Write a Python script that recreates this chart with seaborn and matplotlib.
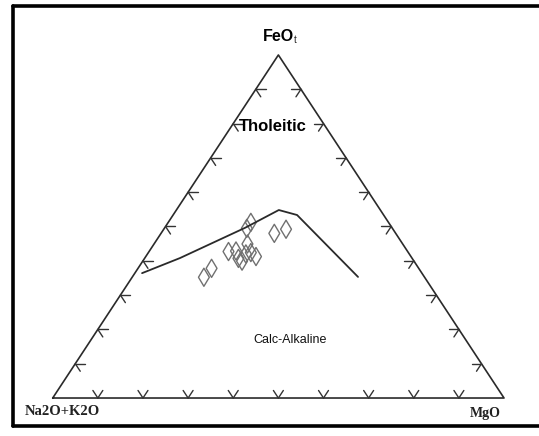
import numpy as np
import pandas as pd
import matplotlib
matplotlib.use("Agg")
import matplotlib.pyplot as plt
import seaborn as sns
from matplotlib.lines import Line2D

# ternary data (percent): A = Na2O+K2O, F = FeOt, M = MgO
sample_A = [32.3, 30.5, 26.9, 23.7, 39.7, 38.0, 38.5, 34.4, 36.2, 34.9, 34.3, 38.1, 45.9, 48.9]
sample_F = [49.5, 51.2, 48.0, 49.2, 42.7, 42.9, 40.7, 44.9, 42.0, 42.4, 41.2, 39.9, 37.8, 35.2]
sample_M = [18.3, 18.3, 25.1, 27.1, 17.6, 19.2, 20.8, 20.7, 21.8, 22.7, 24.4, 22.0, 16.3, 15.9]

# Tholeiitic / calc-alkaline boundary
line_A = [62.0, 51.4, 32.6, 22.5, 19.2, 14.7]
line_F = [36.4, 40.8, 49.6, 54.8, 53.4, 35.3]
line_M = [1.6, 7.8, 17.8, 22.7, 27.5, 50.0]

H = np.sqrt(3) / 2


def to_xy(A, F, M):
    A, F, M = np.asarray(A, float), np.asarray(F, float), np.asarray(M, float)
    s = A + F + M
    f, m = F / s, M / s
    return m + f / 2, f * H


sns.set_style("white")
fig = plt.figure(figsize=(5.39, 4.36), dpi=100)
ax = fig.add_axes([0, 0, 1, 1])
ax.set_xlim(-0.1168, 1.0775)
ax.set_ylim(-0.0959, 1.0048)

# triangle
ax.plot([0, 1, 0.5, 0], [0, 0, H, 0], color="#2a2a2a", lw=1.2)

# tick marks every 10 %
L = 0.022
for k in range(1, 10):
    t = k / 10
    # bottom
    px, py = t, 0
    for dx, dy in [(0.5, H), (-0.5, H)]:
        ax.plot([px, px + L * dx], [py, py + L * dy], color="#333333", lw=1.0)
    # left
    px, py = t / 2, t * H
    for dx, dy in [(1, 0), (0.5, -H)]:
        ax.plot([px, px + L * dx], [py, py + L * dy], color="#333333", lw=1.0)
    # right
    px, py = 1 - t / 2, t * H
    for dx, dy in [(-1, 0), (-0.5, -H)]:
        ax.plot([px, px + L * dx], [py, py + L * dy], color="#333333", lw=1.0)

lx, ly = to_xy(line_A, line_F, line_M)
df_line = pd.DataFrame({"x": lx, "y": ly})
sns.lineplot(data=df_line, x="x", y="y", sort=False, color="#2a2a2a", lw=1.3, ax=ax)

sx, sy = to_xy(sample_A, sample_F, sample_M)
df_pts = pd.DataFrame({"x": sx, "y": sy})
sns.scatterplot(data=df_pts, x="x", y="y", marker="d", s=85, facecolor="none",
                edgecolor="#707070", linewidth=1.0, ax=ax)
ax.axis("off")

ax.text(0.5000, 0.9114, "FeO", fontsize=11.5, fontweight="bold", ha="center", va="center",
        family="Liberation Sans", color="black")
ax.text(0.5347, 0.905, "t", fontsize=7, ha="left", va="center", family="Liberation Sans")
ax.text(0.4866, 0.6842, "Tholeitic", fontsize=12, fontweight="bold", ha="center",
        va="center", family="Liberation Sans", color="black")
ax.text(0.5258, 0.1464, "Calc-Alkaline", fontsize=9, ha="center", va="center",
        family="Liberation Sans", color="#111111")
ax.text(0.0206, -0.0353, "Na2O+K2O", fontsize=10.5, fontweight="bold", ha="center",
        va="center", family="Liberation Serif", color="#222222")
ax.text(0.958, -0.0379, "MgO", fontsize=10, fontweight="bold", ha="center",
        va="center", family="Liberation Serif", color="#222222")

# outer frame (right side cut off)
W, Hp = 539, 436
fx = lambda p: p / W
fy = lambda p: 1 - p / Hp
for xs, ys in [([13, 13], [6.5, 426]), ([13, 539], [6.5, 6.5]), ([13, 539], [426, 426])]:
    fig.add_artist(Line2D([fx(v) for v in xs], [fy(v) for v in ys], color="black", lw=2.6))

fig.savefig("out.png", dpi=100)
